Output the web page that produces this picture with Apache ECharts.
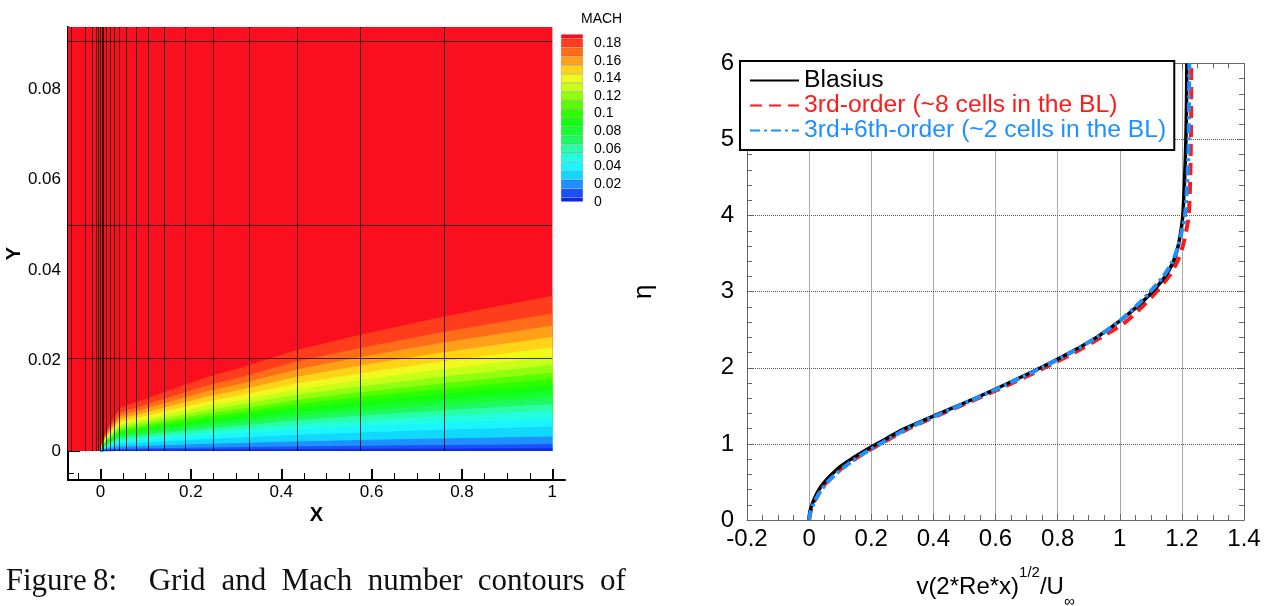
<!DOCTYPE html>
<html>
<head>
<meta charset="utf-8">
<script src="https://cdn.jsdelivr.net/npm/echarts@6/dist/echarts.min.js"></script>
<style>
html, body { margin: 0; padding: 0; background: #fff; }
#main { width: 1274px; height: 606px; }
</style>
</head>
<body>
<div id="main"></div>
<script>
// ---- left panel: grid + Mach contours ----
var meshX = [-0.064, -0.034, -0.019, -0.010, -0.004, 0, 0.0034, 0.0068, 0.0127, 0.021, 0.030, 0.041, 0.058, 0.079, 0.105, 0.141, 0.187, 0.249, 0.330, 0.435, 0.575, 0.760];
var meshY = [0.0205, 0.05, 0.0905];
// height of the outer contour (M = 0.185) along the plate
var stationX   = [0, 0.005, 0.014, 0.029, 0.043, 0.06, 0.088, 0.12, 0.16, 0.235, 0.31, 0.43, 0.575, 0.76, 1.0];
var edgeHeight = [0, 0.0022, 0.0046, 0.0072, 0.0094, 0.0101, 0.0110, 0.0122, 0.0136, 0.0162, 0.0183, 0.0221, 0.0256, 0.0296, 0.0342];
// contour levels and their height at x = 1
var machLevels  = [0.005, 0.015, 0.025, 0.035, 0.045, 0.055, 0.065, 0.075, 0.085, 0.095, 0.105, 0.115, 0.125, 0.135, 0.145, 0.155, 0.165, 0.175, 0.185];
var levelHeight = [0.0005, 0.0014, 0.0031, 0.0053, 0.0071, 0.0088, 0.0103, 0.0117, 0.0131, 0.0145, 0.0158, 0.0172, 0.0189, 0.0208, 0.0228, 0.0251, 0.0276, 0.0303, 0.0342];
var bandColors = ['#0d2af0', '#1a50ff', '#1e90ff', '#10d8ff', '#1af5ff', '#22ffe0', '#28ffa8', '#20f860',
                  '#16ff30', '#14ff10', '#2cff00', '#58ff00', '#90ff10', '#c8ff18', '#f0f820', '#ffd418',
                  '#ffa018', '#ff6c1a', '#ff3c1c', '#fb0e1d'];
var legendTicks = [0, 0.02, 0.04, 0.06, 0.08, 0.1, 0.12, 0.14, 0.16, 0.18];
var xMajor = [0, 0.2, 0.4, 0.6, 0.8, 1];
var xMinor = [-0.05, 0.05, 0.1, 0.15, 0.25, 0.3, 0.35, 0.45, 0.5, 0.55, 0.65, 0.7, 0.75, 0.85, 0.9, 0.95];
var yMajor = [0, 0.02, 0.04, 0.06, 0.08];
var yMinor = [-0.005, 0.005, 0.01, 0.015, 0.025, 0.03, 0.035, 0.045, 0.05, 0.055, 0.065, 0.07, 0.075, 0.085, 0.09];

// ---- right panel: Blasius profile ----
var eta      = [0, 0.1, 0.2, 0.3, 0.4, 0.5, 0.6, 0.7, 0.8, 0.9, 1.0, 1.2, 1.4, 1.6, 1.8, 2.0, 2.2, 2.4, 2.6, 2.8, 3.0, 3.2, 3.4, 3.6, 3.8, 4.0, 4.5, 5.0, 5.5, 6.0];
var vBlasius = [0, 0.002, 0.009, 0.019, 0.032, 0.05, 0.073, 0.1, 0.135, 0.175, 0.218, 0.308, 0.42, 0.535, 0.642, 0.745, 0.84, 0.925, 0.995, 1.055, 1.105, 1.146, 1.173, 1.188, 1.197, 1.203, 1.209, 1.213, 1.215, 1.216];
var vThird   = [0, 0.004, 0.012, 0.024, 0.038, 0.057, 0.082, 0.112, 0.147, 0.186, 0.23, 0.32, 0.43, 0.545, 0.655, 0.758, 0.855, 0.94, 1.018, 1.072, 1.118, 1.158, 1.186, 1.203, 1.214, 1.222, 1.227, 1.229, 1.23, 1.23];
var vSixth   = [0, 0.004, 0.013, 0.025, 0.04, 0.06, 0.085, 0.114, 0.148, 0.186, 0.228, 0.316, 0.425, 0.538, 0.645, 0.748, 0.843, 0.925, 0.995, 1.05, 1.098, 1.14, 1.17, 1.188, 1.2, 1.21, 1.218, 1.222, 1.223, 1.224];

var captionWords = ['Figure', '8:', 'Grid', 'and', 'Mach', 'number', 'contours', 'of'];
var captionX     = [5.7, 93, 148.7, 221.5, 281.6, 367.8, 477.8, 600];

var xMin = -0.072, xMax = 1.028, yMin = -0.0064, yMax = 0.0937;
var sans = 'Liberation Sans, Arial, sans-serif';

var myChart = echarts.init(document.getElementById('main'));

function pairs(xs, ys) {
    var out = [];
    for (var i = 0; i < xs.length; i++) out.push([xs[i], ys[i]]);
    return out;
}

var series = [];
// free stream (red) block
series.push({
    type: 'line', xAxisIndex: 0, yAxisIndex: 0, silent: true, symbol: 'none',
    data: [[xMin, yMax], [1.0, yMax]],
    lineStyle: { width: 0 },
    areaStyle: { color: bandColors[19], opacity: 1 }
});
// contour bands, outermost first
var outer = levelHeight[levelHeight.length - 1];
for (var k = machLevels.length - 1; k >= 0; k--) {
    var pts = [];
    for (var i = 0; i < stationX.length; i++) {
        pts.push([stationX[i], edgeHeight[i] * levelHeight[k] / outer]);
    }
    series.push({
        type: 'line', xAxisIndex: 0, yAxisIndex: 0, silent: true, symbol: 'none',
        data: pts,
        lineStyle: { width: 1, color: bandColors[k] },
        areaStyle: { color: bandColors[k], opacity: 1 }
    });
}
// mesh lines
var meshData = [];
meshX.forEach(function (x) { meshData.push([{ coord: [x, 0] }, { coord: [x, yMax] }]); });
meshY.forEach(function (y) { meshData.push([{ coord: [xMin, y] }, { coord: [1.0, y] }]); });
series.push({
    type: 'line', xAxisIndex: 0, yAxisIndex: 0, silent: true, symbol: 'none',
    data: [], z: 5,
    markLine: {
        silent: true, symbol: 'none', animation: false,
        label: { show: false },
        lineStyle: { color: '#000', width: 1, type: 'solid', opacity: 0.75 },
        data: meshData
    }
});

// colour bar
for (var b = 0; b < bandColors.length; b++) {
    var lo = b === 0 ? 0 : machLevels[b - 1];
    var hi = b === bandColors.length - 1 ? 0.19 : machLevels[b];
    series.push({
        type: 'bar', xAxisIndex: 4, yAxisIndex: 4, stack: 'bar', silent: true,
        barWidth: '100%', data: [hi - lo],
        itemStyle: { color: bandColors[b], borderColor: 'rgba(60,60,60,0.35)', borderWidth: 0.5 }
    });
}

// profiles
series.push({
    name: '3rd-order (~8 cells in the BL)', type: 'line', xAxisIndex: 2, yAxisIndex: 2,
    symbol: 'none', smooth: 0.3, data: pairs(vThird, eta),
    lineStyle: { color: '#ff1a1a', width: 4, type: [12, 7] }, itemStyle: { color: '#ff1a1a' }
});
series.push({
    name: 'Blasius', type: 'line', xAxisIndex: 2, yAxisIndex: 2,
    symbol: 'none', smooth: 0.3, data: pairs(vBlasius, eta),
    lineStyle: { color: '#000', width: 3.5 }, itemStyle: { color: '#000' }
});
series.push({
    name: '3rd+6th-order (~2 cells in the BL)', type: 'line', xAxisIndex: 2, yAxisIndex: 2,
    symbol: 'none', smooth: 0.3, data: pairs(vSixth, eta),
    lineStyle: { color: '#1e90ff', width: 4, type: [10, 4, 3, 4] }, itemStyle: { color: '#1e90ff' }
});

var hiddenLine = { show: true, onZero: false, lineStyle: { color: 'rgba(0,0,0,0)', width: 0 } };

var option = {
    backgroundColor: '#fff',
    animation: false,
    textStyle: { fontFamily: sans },
    grid: [
        { left: 68, right: 1274 - 565, top: 27, bottom: 606 - 480, outerBoundsMode: 'none', containLabel: false },
        { left: 747, right: 30, top: 63.4, bottom: 86, outerBoundsMode: 'none', containLabel: false },
        { left: 561, width: 22, top: 34.3, height: 167.4, outerBoundsMode: 'none', containLabel: false }
    ],
    xAxis: [
        {   // 0 left plot, majors + labels
            gridIndex: 0, type: 'value', min: xMin, max: xMax, position: 'bottom',
            name: 'X', nameLocation: 'middle', nameGap: 20,
            nameTextStyle: { fontSize: 20, fontWeight: 'bold', color: '#000', fontFamily: sans },
            axisLine: { show: true, onZero: false, lineStyle: { color: '#000', width: 2 } },
            axisTick: { show: true, inside: true, length: 11, lineStyle: { color: '#000', width: 2 },
                customValues: xMajor },
            axisLabel: { customValues: xMajor, fontSize: 17, color: '#000', margin: 4 },
            splitLine: { show: false }
        },
        {   // 1 left plot minors
            gridIndex: 0, type: 'value', min: xMin, max: xMax, position: 'bottom', offset: 0,
            axisLine: hiddenLine,
            axisTick: { show: true, inside: true, length: 7, lineStyle: { color: '#000', width: 1 },
                customValues: xMinor },
            axisLabel: { show: false, customValues: xMinor }, splitLine: { show: false }
        },
        {   // 2 right plot bottom
            gridIndex: 1, type: 'value', min: -0.2, max: 1.4, interval: 0.2, position: 'bottom',
            name: '{a|v(2*Re*x)}{b|1/2}{a|/U}{c|∞}', nameLocation: 'middle', nameGap: 45,
            nameTextStyle: {
                color: '#000',
                rich: {
                    a: { fontSize: 24, lineHeight: 44, color: '#000', fontFamily: sans },
                    b: { fontSize: 15, lineHeight: 16, verticalAlign: 'top', color: '#000', fontFamily: sans },
                    c: { fontSize: 15, lineHeight: 16, verticalAlign: 'bottom', color: '#000', fontFamily: sans }
                }
            },
            axisLine: { show: true, onZero: false, lineStyle: { color: '#666', width: 1 } },
            axisTick: { show: true, inside: true, length: 6, lineStyle: { color: '#666' } },
            minorTick: { show: true, splitNumber: 4, length: 5, lineStyle: { color: '#666' } },
            axisLabel: { fontSize: 24, color: '#000', margin: 7 },
            splitLine: { show: true, lineStyle: { type: 'dotted', color: '#555', width: 1 } }
        },
        {   // 3 right plot top
            gridIndex: 1, type: 'value', min: -0.2, max: 1.4, interval: 0.2, position: 'top',
            axisLine: { show: true, onZero: false, lineStyle: { color: '#666', width: 1 } },
            axisTick: { show: true, inside: true, length: 6, lineStyle: { color: '#666' } },
            minorTick: { show: true, splitNumber: 4, length: 5, lineStyle: { color: '#666' } },
            axisLabel: { show: false }, splitLine: { show: false }
        },
        {   // 4 colour bar
            gridIndex: 2, type: 'category', data: ['M'], show: false
        }
    ],
    yAxis: [
        {   // 0 left plot majors
            gridIndex: 0, type: 'value', min: yMin, max: yMax, position: 'left',
            name: 'Y', nameLocation: 'middle', nameGap: 42,
            nameTextStyle: { fontSize: 20, fontWeight: 'bold', color: '#000', fontFamily: sans },
            axisLine: { show: true, onZero: false, lineStyle: { color: '#000', width: 2 } },
            axisTick: { show: true, inside: true, length: 12, lineStyle: { color: '#000', width: 2 },
                customValues: yMajor },
            axisLabel: { customValues: yMajor, fontSize: 17, color: '#000', margin: 7 },
            splitLine: { show: false }
        },
        {   // 1 left plot minors
            gridIndex: 0, type: 'value', min: yMin, max: yMax, position: 'left', offset: 0,
            axisLine: hiddenLine,
            axisTick: { show: true, inside: true, length: 6, lineStyle: { color: '#000', width: 1 },
                customValues: yMinor },
            axisLabel: { show: false, customValues: yMinor }, splitLine: { show: false }
        },
        {   // 2 right plot left
            gridIndex: 1, type: 'value', min: 0, max: 6, interval: 1, position: 'left',
            name: 'η', nameLocation: 'middle', nameGap: 90,
            nameTextStyle: { fontSize: 26, color: '#000', fontFamily: sans },
            axisLine: { show: true, onZero: false, lineStyle: { color: '#666', width: 1 } },
            axisTick: { show: true, inside: true, length: 6, lineStyle: { color: '#666' } },
            minorTick: { show: true, splitNumber: 5, length: 5, lineStyle: { color: '#666' } },
            axisLabel: { fontSize: 24, color: '#000', margin: 13 },
            splitLine: { show: true, lineStyle: { type: 'dotted', color: '#555', width: 1 } }
        },
        {   // 3 right plot right
            gridIndex: 1, type: 'value', min: 0, max: 6, interval: 1, position: 'right',
            axisLine: { show: true, onZero: false, lineStyle: { color: '#666', width: 1 } },
            axisTick: { show: true, inside: true, length: 6, lineStyle: { color: '#666' } },
            minorTick: { show: true, splitNumber: 5, length: 5, lineStyle: { color: '#666' } },
            axisLabel: { show: false }, splitLine: { show: false }
        },
        {   // 4 colour bar labels
            gridIndex: 2, type: 'value', min: 0, max: 0.19, position: 'right',
            axisLine: { show: false }, axisTick: { show: false }, splitLine: { show: false },
            axisLabel: { customValues: legendTicks, fontSize: 14, color: '#000', margin: 11 }
        }
    ],
    legend: {
        data: [
            { name: 'Blasius', textStyle: { color: '#000' } },
            { name: '3rd-order (~8 cells in the BL)', textStyle: { color: '#ff1a1a' } },
            { name: '3rd+6th-order (~2 cells in the BL)', textStyle: { color: '#1e90ff' } }
        ],
        orient: 'vertical', left: 740, top: 61,
        padding: [7, 8, 7, 9], itemGap: 0, itemWidth: 49, itemHeight: 14,
        itemStyle: { opacity: 0 },
        borderColor: '#000', borderWidth: 2, backgroundColor: '#fff', borderRadius: 0,
        selectedMode: false,
        textStyle: { fontSize: 24.7, lineHeight: 23.3, fontFamily: sans }
    },
    graphic: [
        { type: 'text', left: 581, top: 12, style: { text: 'MACH', fontSize: 14, fill: '#000', fontFamily: sans } }
    ].concat(captionWords.map(function (w, i) {
        return { type: 'text', x: captionX[i], y: 582,
                 style: { text: w, fontSize: 31, fill: '#111', fontFamily: 'Liberation Serif, Times New Roman, serif', verticalAlign: 'middle' } };
    })),
    series: series
};
myChart.setOption(option);
</script>
</body>
</html>
